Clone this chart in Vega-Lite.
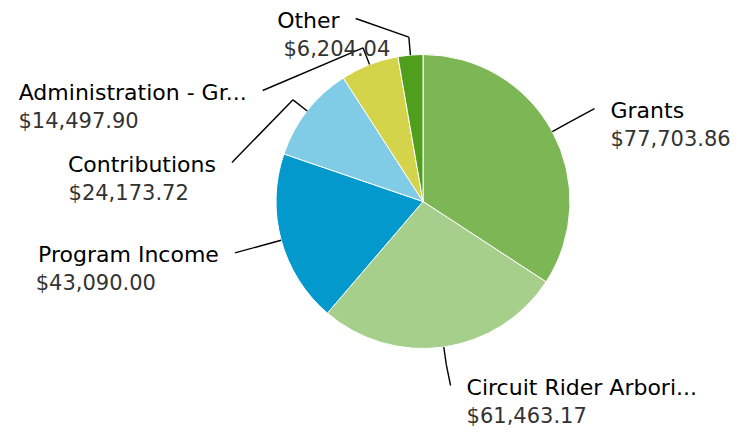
{
  "$schema": "https://vega.github.io/schema/vega-lite/v6.json",
  "width": 630,
  "height": 403,
  "padding": {"left": 108, "top": 0, "right": 0, "bottom": 31},
  "autosize": "none",
  "background": "#ffffff",
  "config": {"view": {"stroke": null}},
  "data": {
    "values": [
      {"category": "Grants", "amount": 77703.86, "order": 1},
      {"category": "Circuit Rider Arbori...", "amount": 61463.17, "order": 2},
      {"category": "Program Income", "amount": 43090.00, "order": 3},
      {"category": "Contributions", "amount": 24173.72, "order": 4},
      {"category": "Administration - Gr...", "amount": 14497.90, "order": 5},
      {"category": "Other", "amount": 6204.04, "order": 6}
    ]
  },
  "transform": [
    {"joinaggregate": [{"op": "sum", "field": "amount", "as": "total"}]},
    {"window": [{"op": "sum", "field": "amount", "as": "cum"}], "sort": [{"field": "order"}], "frame": [null, 0]},
    {"calculate": "(datum.cum - datum.amount / 2) / datum.total * 2 * PI", "as": "ang"},
    {"calculate": "sin(datum.ang) >= 0 ? 1 : -1", "as": "side"},
    {"calculate": "-195 * cos(datum.ang)", "as": "ymid"},
    {"window": [{"op": "row_number", "as": "i"}], "groupby": ["side"], "sort": [{"field": "ymid"}]},
    {"calculate": "datum.ymid - datum.i * 72", "as": "z"},
    {"window": [{"op": "max", "field": "z", "as": "zmax"}], "groupby": ["side"], "sort": [{"field": "ymid"}], "frame": [null, 0]},
    {"calculate": "max(-183 + (datum.i - 1) * 72, datum.i * 72 + datum.zmax)", "as": "ys"},
    {"calculate": "datum.side * sqrt(max(0, 195 * 195 - datum.ys * datum.ys))", "as": "ax"},
    {"calculate": "min(184, datum.ys)", "as": "ay"},
    {"calculate": "147 * sin(datum.ang)", "as": "ex"},
    {"calculate": "-147 * cos(datum.ang)", "as": "ey"},
    {"calculate": "165 * sin(datum.ang)", "as": "bx"},
    {"calculate": "-165 * cos(datum.ang)", "as": "by"},
    {"calculate": "datum.ax + datum.side * 16", "as": "lx"},
    {"calculate": "length(replace(datum.category, regexp('[^iltrIf. -]', 'g'), ''))", "as": "nNarrow"},
    {"calculate": "length(replace(datum.category, regexp('[^mMW]', 'g'), ''))", "as": "nWide"},
    {"calculate": "13.8 * (length(datum.category) - datum.nNarrow - datum.nWide) + 7.4 * datum.nNarrow + 21.6 * datum.nWide", "as": "nameW"},
    {"calculate": "datum.side > 0 ? datum.lx : datum.lx - datum.nameW", "as": "vx"}
  ],
  "layer": [
    {
      "mark": {"type": "arc", "radius": 147, "stroke": "#ffffff", "strokeWidth": 1},
      "encoding": {
        "theta": {"field": "amount", "type": "quantitative", "stack": true},
        "order": {"field": "order", "type": "quantitative"},
        "color": {
          "field": "category",
          "type": "nominal",
          "legend": null,
          "scale": {
            "domain": ["Grants", "Circuit Rider Arbori...", "Program Income", "Contributions", "Administration - Gr...", "Other"],
            "range": ["#7cb655", "#a7cf8c", "#0399cc", "#80cbe5", "#d4d44a", "#4f9f1c"]
          }
        }
      }
    },
    {
      "mark": {"type": "rule", "color": "#000000", "strokeWidth": 1.4},
      "encoding": {
        "x": {"field": "ex", "type": "quantitative", "axis": null, "scale": {"domain": [-315, 315], "nice": false, "zero": false}},
        "y": {"field": "ey", "type": "quantitative", "axis": null, "scale": {"domain": [-201.5, 201.5], "nice": false, "zero": false, "reverse": true}},
        "x2": {"field": "bx"},
        "y2": {"field": "by"}
      }
    },
    {
      "mark": {"type": "rule", "color": "#000000", "strokeWidth": 1.4},
      "encoding": {
        "x": {"field": "bx", "type": "quantitative", "axis": null, "scale": {"domain": [-315, 315], "nice": false, "zero": false}},
        "y": {"field": "by", "type": "quantitative", "axis": null, "scale": {"domain": [-201.5, 201.5], "nice": false, "zero": false, "reverse": true}},
        "x2": {"field": "ax"},
        "y2": {"field": "ay"}
      }
    },
    {
      "mark": {"type": "text", "align": {"expr": "datum.side > 0 ? 'left' : 'right'"}, "baseline": "alphabetic", "dy": 9, "font": "DejaVu Sans", "fontSize": 22, "color": "#000000"},
      "encoding": {
        "x": {"field": "lx", "type": "quantitative", "axis": null, "scale": {"domain": [-315, 315], "nice": false, "zero": false}},
        "y": {"field": "ay", "type": "quantitative", "axis": null, "scale": {"domain": [-201.5, 201.5], "nice": false, "zero": false, "reverse": true}},
        "text": {"field": "category", "type": "nominal"}
      }
    },
    {
      "mark": {"type": "text", "align": "left", "baseline": "alphabetic", "dy": 37, "font": "DejaVu Sans", "fontSize": 21, "color": "#333333"},
      "encoding": {
        "x": {"field": "vx", "type": "quantitative", "axis": null, "scale": {"domain": [-315, 315], "nice": false, "zero": false}},
        "y": {"field": "ay", "type": "quantitative", "axis": null, "scale": {"domain": [-201.5, 201.5], "nice": false, "zero": false, "reverse": true}},
        "text": {"field": "amount", "type": "quantitative", "format": "$,.2f"}
      }
    }
  ]
}
